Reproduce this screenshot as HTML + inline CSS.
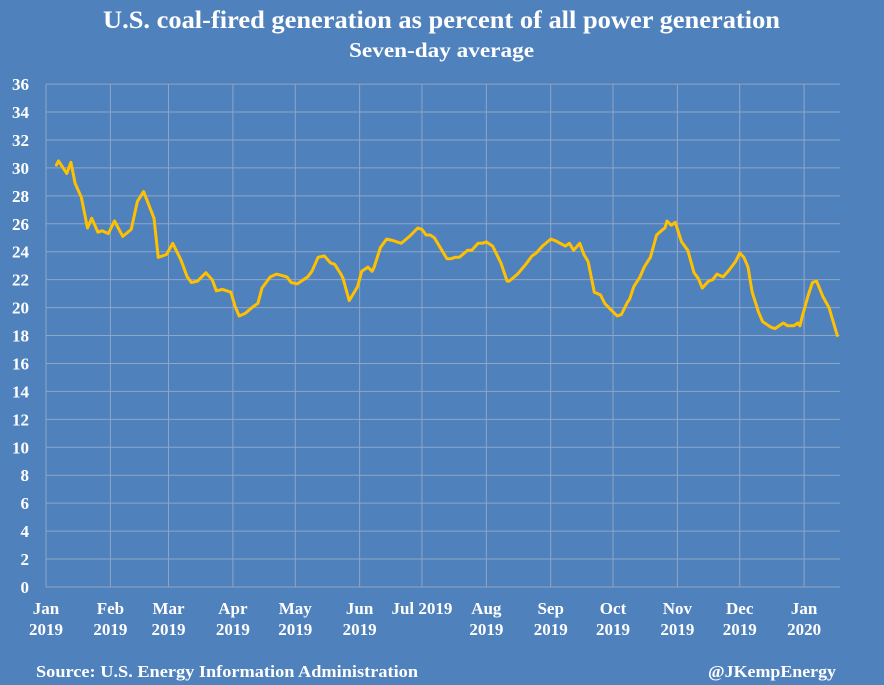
<!DOCTYPE html>
<html><head><meta charset="utf-8"><style>
html,body{margin:0;padding:0;background:#4f81bd;}
svg{display:block;font-family:"Liberation Serif",serif;}
</style></head><body>
<svg id="chart" width="884" height="685" viewBox="0 0 884 685">
<rect x="0" y="0" width="884" height="685" fill="#4f81bd"/>
<text x="103" y="28" textLength="677" lengthAdjust="spacingAndGlyphs" fill="#fff" font-size="25" font-weight="bold">U.S. coal-fired generation as percent of  all power generation</text>
<text x="349" y="57" textLength="185" lengthAdjust="spacingAndGlyphs" fill="#fff" font-size="21" font-weight="bold">Seven-day average</text>
<g id="grid"></g>
<g id="yaxis"></g>
<g id="xaxis"></g>
<g id="series"></g>
<text x="36" y="677" textLength="382" lengthAdjust="spacingAndGlyphs" fill="#fff" font-size="17" font-weight="bold">Source: U.S. Energy Information Administration</text>
<text x="708" y="677" textLength="128" lengthAdjust="spacingAndGlyphs" fill="#fff" font-size="17" font-weight="bold">@JKempEnergy</text>
</svg>
<script>
const days=[5,6,10,12,14,17,20,22,25,27,30,33,37,41,44,47,52,54,58,61,65,68,70,73,77,80,82,85,89,91,93,96,100,102,104,108,111,116,118,121,126,128,131,134,137,139,142,143,146,150,152,155,157,158,161,164,167,169,171,175,179,181,183,185,187,191,193,195,197,199,203,205,208,210,212,215,219,222,223,227,231,234,236,239,243,245,250,252,254,257,259,261,264,267,269,273,275,277,280,281,283,286,288,291,294,297,298,299,301,303,306,309,312,314,316,319,321,323,326,329,332,334,336,338,340,343,345,349,351,353,355,357,360,362,363,364,367,369,371,374,377,381];
const values=[30.2,30.5,29.6,30.4,28.9,27.9,25.7,26.4,25.4,25.5,25.3,26.2,25.1,25.6,27.6,28.3,26.4,23.6,23.8,24.6,23.4,22.2,21.8,21.9,22.5,22.0,21.2,21.3,21.1,20.1,19.4,19.6,20.1,20.3,21.4,22.2,22.4,22.2,21.8,21.7,22.2,22.6,23.6,23.7,23.2,23.1,22.4,22.1,20.5,21.5,22.6,22.9,22.6,22.9,24.3,24.9,24.8,24.7,24.6,25.1,25.7,25.6,25.2,25.2,25.0,24.0,23.5,23.5,23.6,23.6,24.1,24.1,24.6,24.6,24.7,24.4,23.2,21.9,21.9,22.4,23.1,23.7,23.9,24.4,24.9,24.8,24.4,24.6,24.1,24.6,23.8,23.3,21.1,20.9,20.3,19.7,19.4,19.5,20.4,20.6,21.5,22.2,22.9,23.6,25.2,25.6,25.7,26.2,25.9,26.1,24.7,24.1,22.5,22.1,21.4,21.9,22.0,22.4,22.2,22.7,23.3,23.9,23.6,22.9,21.1,19.7,19.0,18.6,18.5,18.7,18.9,18.7,18.7,18.9,18.7,19.3,20.9,21.8,21.9,20.8,20.0,18.0];
const yTicks=[0,2,4,6,8,10,12,14,16,18,20,22,24,26,28,30,32,34,36];
const monthDays=[0,31,59,90,120,151,181,212,243,273,304,334,365];
const monthLabels1=["Jan","Feb","Mar","Apr","May","Jun","Jul 2019","Aug","Sep","Oct","Nov","Dec","Jan"];
const monthLabels2=["2019","2019","2019","2019","2019","2019","","2019","2019","2019","2019","2019","2020"];

const NS="http://www.w3.org/2000/svg";
const X0=46,PXD=2.077,Y0=587,PXU=13.97,XR=840;
const xs=d=>X0+d*PXD, ys=v=>Y0-v*PXU;
function mk(t,a,p){const e=document.createElementNS(NS,t);for(const k in a)e.setAttribute(k,a[k]);p.appendChild(e);return e;}
const grid=document.getElementById('grid'),ya=document.getElementById('yaxis'),xa=document.getElementById('xaxis'),se=document.getElementById('series');
yTicks.forEach(v=>{
  const l=mk('line',{x1:X0,x2:XR,y1:ys(v),y2:ys(v),stroke:'#8fa6c6','stroke-width':1},grid);
  
  
  const t=mk('text',{x:29,y:ys(v)+6,'text-anchor':'end',fill:'#fff','font-size':17,'font-weight':'bold'},ya);
  t.textContent=v;
  
  
});
monthDays.forEach((d,i)=>{
  const l=mk('line',{x1:xs(d),x2:xs(d),y1:ys(36),y2:Y0,stroke:'#8fa6c6','stroke-width':1},grid);
  
  
  const t=mk('text',{x:xs(d),y:614,'text-anchor':'middle',fill:'#fff','font-size':17,'font-weight':'bold'},xa);
  t.textContent=monthLabels1[i];
  
  
  if(monthLabels2[i]){
    const t2=mk('text',{x:xs(d),y:635,'text-anchor':'middle',fill:'#fff','font-size':17,'font-weight':'bold'},xa);
    t2.textContent=monthLabels2[i];
    
    
  }
});
const pts=days.map((d,i)=>xs(d).toFixed(1)+','+ys(values[i]).toFixed(1)).join(' ');
const pl=mk('polyline',{points:pts,fill:'none',stroke:'#ffc000','stroke-width':3,'stroke-linejoin':'round','stroke-linecap':'round'},se);


</script>
</body></html>
